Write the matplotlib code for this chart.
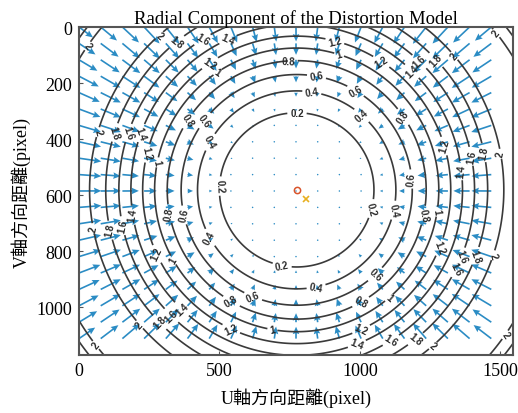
import matplotlib
matplotlib.use("Agg")
import matplotlib.pyplot as plt
import numpy as np

# image size (pixel) and principal point / image centre markers
img_w = 1545
img_h = 1170
pp = (775, 581)            # principal point, "o"
img_center = (808, 614)    # "x"

# radial distortion polynomial (r in kpx -> px)
k_r3 = 10.45
k_r5 = -11.18
k_r7 = 2.09

levels = [0.2, 0.4, 0.6, 0.8, 1.0, 1.2, 1.4, 1.6, 1.8, 2.0]
x_ticks = [0, 500, 1000, 1500]
y_ticks = [0, 200, 400, 600, 800, 1000]

# where the contour labels sit (image coords)
label_pos = [
    (64, 374), (288, 32), (1331, 107), (1491, 18), (1498, 453), (1480, 816),
    (1523, 1102), (1260, 1137), (206, 1070), (57, 1137), (39, 720), (21, 61),
    (121, 374), (345, 50), (1267, 121), (1452, 446), (1420, 820), (1203, 1119),
    (281, 1059), (100, 727),
    (164, 374), (438, 43), (1214, 121), (1402, 460), (1381, 827), (1114, 1123),
    (324, 1034), (135, 713),
    (210, 374), (530, 43), (1203, 139), (1356, 513), (1345, 863), (989, 1130),
    (367, 1005), (174, 674),
    (228, 446), (456, 114), (911, 50), (1078, 121), (1302, 424), (1302, 791),
    (1007, 1084), (537, 1087), (263, 816),
    (270, 481), (491, 157), (929, 89), (1285, 660), (1107, 970), (687, 1087),
    (324, 838),
    (370, 321), (744, 118), (1153, 321), (1238, 674), (1011, 995), (537, 988),
    (313, 667),
    (431, 321), (847, 168), (989, 221), (1185, 542), (1060, 888), (619, 963),
    (359, 674),
    (459, 406), (829, 232), (1011, 310), (1132, 656), (847, 941), (456, 756),
    (495, 567), (776, 303), (1046, 649), (722, 856),
]


def radial(r):
    x = r / 1000.0
    return k_r3 * x**3 + k_r5 * x**5 + k_r7 * x**7


serif = ["Liberation Serif", "Noto Sans CJK TC", "DejaVu Sans"]

fig = plt.figure(figsize=(5.18, 4.14), dpi=100)
ax = fig.add_axes([79 / 518, 1 - 356 / 414, (513 - 79) / 518, (356 - 28) / 414])

# contour field
gu, gv = np.meshgrid(np.linspace(0, img_w, 400), np.linspace(0, img_h, 300))
gr = np.hypot(gu - pp[0], gv - pp[1])
cs = ax.contour(gu, gv, radial(gr), levels=levels, colors="#3a3a3a", linewidths=1.2)
ax.clabel(cs, fmt="%g", fontsize=7, inline=True, inline_spacing=2,
          manual=label_pos)
for t in cs.labelTexts:
    t.set_fontfamily("Liberation Sans")
    t.set_fontweight("bold")
    t.set_color("#2a2a2a")

# quiver grid, 20 x 20
qu, qv = np.meshgrid(np.arange(0, img_w - 1, img_w / 20), np.arange(0, img_h - 1, img_h / 20))
du = qu - pp[0]
dv = qv - pp[1]
qr = np.hypot(du, dv)
qr[qr == 0] = 1
mag = radial(qr)
ax.quiver(qu, qv, -mag * du / qr, -mag * dv / qr, color="#2b8cc4",
          angles="xy", scale_units="xy", scale=1 / 38, width=0.0038,
          headwidth=4, headlength=4.5, headaxislength=4, minlength=1.0, zorder=1)

ax.plot(pp[0], pp[1], "o", ms=4.5, mfc="none", mec="#d9542b", mew=1.1)
ax.plot(img_center[0], img_center[1], "x", ms=4, mec="#e8b020", mew=1.2)

ax.set_xlim(0, img_w)
ax.set_ylim(img_h, 0)
ax.set_xticks(x_ticks)
ax.set_yticks(y_ticks)
ax.tick_params(direction="in", length=3, color="#555555", labelsize=13, pad=5)
for lab in ax.get_xticklabels() + ax.get_yticklabels():
    lab.set_fontfamily(serif)
for s in ax.spines.values():
    s.set_color("#555555")
    s.set_linewidth(1.5)

ax.set_title("Radial Component of the Distortion Model", fontsize=13.5, family=serif, pad=3)
ax.set_xlabel("U軸方向距離(pixel)", fontsize=13, family=serif, labelpad=6)
ax.set_ylabel("V軸方向距離(pixel)", fontsize=13, family=serif, labelpad=4)

fig.savefig("out.png", dpi=100)
plt.close(fig)
